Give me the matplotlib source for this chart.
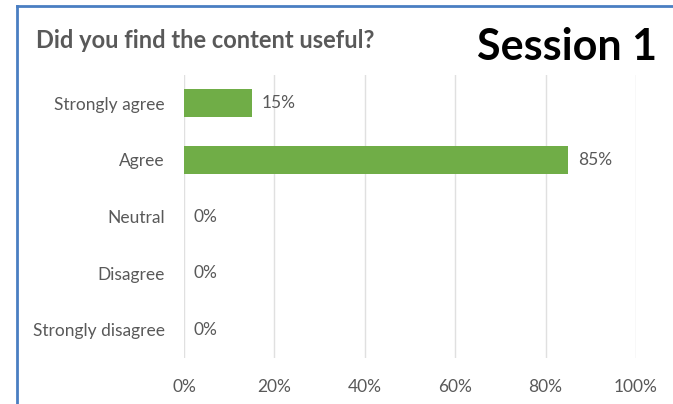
import matplotlib.pyplot as plt

# -------- Data --------
categories = ["Strongly agree", "Agree", "Neutral", "Disagree", "Strongly disagree"]
values = [15, 85, 0, 0, 0]
x_ticks = [0, 20, 40, 60, 80, 100]
tick_labels = [f"{t}%" for t in x_ticks]

bar_color = "#70AD47"
text_color = "#595959"
grid_color = "#E0E0E0"

plt.rcParams['font.family'] = ['Lato', 'DejaVu Sans']

fig = plt.figure(figsize=(6.73, 4.04), dpi=100)
W, H = 673, 404

# plot area in pixels: x 184..636, y 75..358
ax = fig.add_axes([184 / W, 1 - 358 / H, (636 - 184) / W, (358 - 75) / H])

y_pos = list(range(len(categories)))
ax.barh(y_pos, values, height=0.49, color=bar_color, zorder=3)
ax.set_ylim(len(categories) - 0.5, -0.5)
ax.set_xlim(0, 100)

ax.set_yticks(y_pos)
ax.set_yticklabels(categories, fontsize=12.5, color=text_color)
ax.set_xticks(x_ticks)
ax.set_xticklabels(tick_labels, fontsize=12.5, color=text_color)
ax.tick_params(axis='both', length=0)
ax.tick_params(axis='y', pad=14)
ax.tick_params(axis='x', pad=15)

ax.grid(axis='x', color=grid_color, linewidth=1, zorder=0)
for s in ax.spines.values():
    s.set_visible(False)

for yi, v in zip(y_pos, values):
    ax.annotate(f"{v}%", xy=(v, yi), xytext=(7, 0), textcoords='offset points',
                va='center', ha='left', fontsize=12.5, color=text_color)

# title and session label
fig.text(36 / W, 1 - 40 / H, "Did you find the content useful?", fontsize=17,
         fontweight='bold', color=text_color, va='center', ha='left')
fig.text(657 / W, 1 - 47 / H, "Session 1", fontsize=31, fontweight='bold',
         color='black', va='center', ha='right')

# blue frame on top and left
fig.add_artist(plt.Line2D([17 / W, 1], [1 - 6 / H, 1 - 6 / H], color="#4A7EC2",
                          linewidth=2, transform=fig.transFigure))
fig.add_artist(plt.Line2D([17 / W, 17 / W], [0, 1 - 6 / H], color="#4A7EC2",
                          linewidth=2, transform=fig.transFigure))

fig.savefig("out.png", dpi=100)
